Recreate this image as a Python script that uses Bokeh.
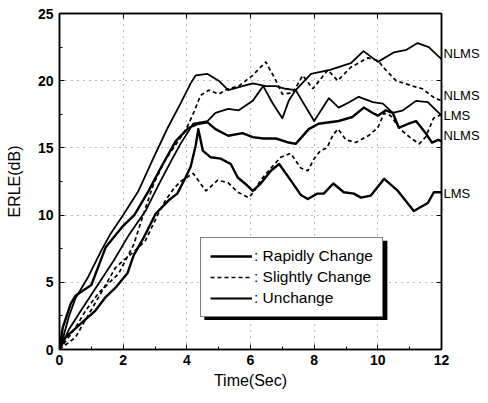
from bokeh.plotting import figure
from bokeh.models import (Range1d, LinearAxis, FixedTicker, Legend, LegendItem,
                          BoxAnnotation, AllLabels)
from bokeh.embed import file_html
from bokeh.resources import INLINE

# ---- data ----
t_nlms_unchange = [0, 0.15, 0.3, 0.5, 0.9, 1.3, 1.6, 2.0, 2.48, 2.96, 3.4, 3.8, 4.12, 4.28, 4.65, 5.0, 5.3,
                   5.75, 6.07, 6.48, 6.8, 7.1, 7.42, 7.9, 8.5, 9.15, 9.55, 10.0, 10.5, 10.9, 11.25, 11.6, 12.0]
erle_nlms_unchange = [0, 1.2, 2.5, 3.8, 5.4, 7.3, 8.6, 10.0, 11.8, 14.3, 16.5, 18.3, 19.8, 20.4, 20.5, 20.0, 19.3,
                      19.6, 19.8, 19.6, 19.6, 19.4, 19.3, 20.5, 20.8, 21.3, 22.2, 21.4, 22.1, 22.3, 22.8, 22.5, 21.6]

t_lms_unchange = [0, 0.3, 0.7, 1.2, 1.7, 2.2, 2.7, 3.1, 3.5, 3.8, 4.2, 4.43, 4.65, 4.9, 5.3, 5.63, 6.07, 6.4,
                  6.7, 7.0, 7.2, 7.42, 7.67, 8.0, 8.46, 8.77, 9.1, 9.4, 9.84, 10.16, 10.47, 10.79, 11.2, 11.57, 12.0]
erle_lms_unchange = [0, 1.5, 3.0, 4.8, 6.6, 8.6, 10.3, 12.2, 14.0, 15.3, 16.8, 16.9, 17.0, 17.6, 17.9, 17.8, 18.5, 19.6,
                     18.3, 17.2, 18.5, 19.3, 18.3, 17.0, 18.7, 18.0, 18.4, 18.8, 18.4, 18.3, 17.6, 17.8, 18.5, 18.4, 17.4]

t_nlms_rapid = [0, 0.1, 0.35, 0.5, 1.0, 1.45, 2.0, 2.35, 2.8, 3.2, 3.65, 4.06, 4.37, 4.65, 4.9, 5.3, 5.75, 6.07,
                6.4, 6.8, 7.2, 7.42, 7.83, 8.14, 8.77, 9.2, 9.56, 9.84, 10.0, 10.25, 10.47, 10.66, 10.97, 11.2,
                11.5, 11.7, 11.9, 12.0]
erle_nlms_rapid = [0, 1.6, 3.4, 4.0, 4.8, 7.6, 9.2, 10.0, 11.8, 13.6, 15.5, 16.5, 16.8, 16.9, 16.4, 15.9, 16.1, 15.8,
                   15.7, 15.7, 15.4, 15.3, 16.4, 16.8, 17.0, 17.3, 18.0, 17.6, 17.4, 17.8, 17.6, 16.5, 16.8, 17.0,
                   16.1, 15.4, 15.6, 15.5]

t_lms_rapid = [0, 0.19, 0.66, 1.13, 1.45, 1.76, 2.14, 2.33, 2.64, 3.02, 3.43, 3.7, 3.96, 4.12, 4.28, 4.36, 4.5,
               4.75, 5.06, 5.38, 5.6, 5.9, 6.07, 6.32, 6.64, 6.9, 7.26, 7.58, 7.8, 8.1, 8.3, 8.6, 8.93, 9.25,
               9.47, 9.78, 10.2, 10.63, 11.13, 11.57, 11.76, 12.0]
erle_lms_rapid = [0, 0.9, 1.9, 2.9, 3.9, 4.6, 5.7, 7.0, 8.3, 10.1, 11.1, 11.6, 12.8, 13.6, 15.2, 16.4, 14.8,
                  14.3, 14.2, 13.8, 12.8, 12.2, 11.8, 12.35, 13.3, 13.8, 12.6, 11.5, 11.2, 11.6, 11.6, 12.35, 11.7, 11.6,
                  11.3, 11.45, 12.7, 11.8, 10.3, 10.9, 11.7, 11.7]

t_nlms_slight = [0, 0.5, 0.82, 1.23, 1.86, 2.33, 2.6, 2.96, 3.3, 3.58, 3.74, 4.0, 4.21, 4.43, 4.69, 5.0, 5.3,
                 5.63, 6.07, 6.48, 6.8, 7.0, 7.33, 7.64, 7.96, 8.43, 8.74, 9.15, 9.69, 10.0, 10.25, 10.57, 11.1,
                 11.4, 11.76, 12.0]
erle_nlms_slight = [0, 1.6, 2.9, 4.2, 5.65, 7.8, 9.8, 12.35, 14.0, 15.0, 15.55, 16.5, 17.6, 18.9, 19.3, 19.0, 19.4,
                    19.6, 20.4, 21.4, 20.0, 19.0, 19.1, 20.4, 19.4, 20.8, 20.0, 21.0, 21.7, 21.5, 20.8, 20.0, 19.6,
                    19.4, 18.75, 18.5]

t_lms_slight = [0, 0.5, 1.23, 1.76, 2.39, 2.7, 3.1, 3.33, 3.6, 3.8, 4.2, 4.6, 4.97, 5.3, 5.6, 5.94, 6.1, 6.32,
                6.64, 6.95, 7.26, 7.58, 7.8, 8.0, 8.2, 8.4, 8.6, 8.75, 9.0, 9.3, 9.7, 10.0, 10.2, 10.4, 10.7, 11.0,
                11.3, 11.5, 11.75, 12.0]
erle_lms_slight = [0, 0.9, 3.9, 6.1, 7.4, 8.1, 10.1, 11.1, 12.0, 12.5, 13.1, 11.8, 12.6, 12.4, 11.7, 11.3, 11.7, 12.6,
                   13.5, 14.3, 14.6, 13.5, 13.3, 14.2, 14.8, 15.0, 16.0, 16.4, 15.6, 15.4, 15.9, 16.5, 17.6, 17.4, 16.4,
                   15.8, 15.3, 15.8, 17.2, 17.5]

end_labels = ["NLMS", "NLMS", "LMS", "NLMS", "LMS"]
end_label_values = [22.0, 18.9, 17.4, 15.9, 11.6]

x_ticks = [0, 2, 4, 6, 8, 10, 12]
y_ticks = [0, 5, 10, 15, 20, 25]

FONT = "Liberation Sans"

p = figure(width=486, height=400, output_backend="svg", toolbar_location=None,
           x_range=Range1d(0, 12), y_range=Range1d(0, 25),
           min_border_left=59, min_border_right=45, min_border_top=13, min_border_bottom=51,
           x_axis_label="Time(Sec)", y_axis_label="ERLE(dB)")
p.background_fill_color = "white"
p.border_fill_color = "white"
p.outline_line_color = "black"
p.outline_line_width = 1.5

for ax, ticks in ((p.xaxis[0], x_ticks), (p.yaxis[0], y_ticks)):
    ax.ticker = FixedTicker(ticks=ticks, minor_ticks=[v + (ticks[1] - ticks[0]) / 2 for v in ticks[:-1]])
    ax.major_tick_in = 5
    ax.major_tick_out = 0
    ax.minor_tick_in = 3
    ax.minor_tick_out = 0
    ax.axis_line_color = "black"
    ax.axis_line_width = 1.5
    ax.major_label_text_font = FONT
    ax.major_label_text_font_size = "14px"
    ax.major_label_text_font_style = "bold"
    ax.major_label_text_color = "black"
    ax.axis_label_text_font = FONT
    ax.axis_label_text_font_size = "16px"
    ax.axis_label_text_font_style = "normal"
    ax.axis_label_text_color = "black"
p.xaxis.major_label_standoff = 5
p.yaxis.major_label_standoff = 6
p.xaxis.axis_label_standoff = 4
p.yaxis.axis_label_standoff = 12

# top axis: inside ticks only
top_ax = LinearAxis(ticker=FixedTicker(ticks=x_ticks), major_tick_in=5, major_tick_out=0,
                    minor_tick_in=0, minor_tick_out=0, axis_line_color="black", axis_line_width=1.5,
                    major_label_text_alpha=0, major_label_text_font_size="1px", major_label_standoff=0)
p.add_layout(top_ax, "above")

# right axis: inside ticks at the y ticks, and the algorithm labels at the curve ends
right_ax = LinearAxis(ticker=FixedTicker(ticks=end_label_values, minor_ticks=y_ticks),
                      major_tick_in=0, major_tick_out=0, minor_tick_in=5, minor_tick_out=0,
                      axis_line_color="black", axis_line_width=1.5,
                      major_label_overrides={v: s for v, s in zip(end_label_values, end_labels)},
                      major_label_policy=AllLabels(), major_label_standoff=2,
                      major_label_text_font=FONT, major_label_text_font_size="13px",
                      major_label_text_color="black")
p.add_layout(right_ax, "right")

p.xgrid.ticker = FixedTicker(ticks=x_ticks)
p.ygrid.ticker = FixedTicker(ticks=y_ticks)
for g in (p.xgrid[0], p.ygrid[0]):
    g.grid_line_color = "#777777"
    g.grid_line_dash = "1 5"
    g.grid_line_width = 1

thick, thin, dashw = 2.4, 1.8, 1.7
r_nu = p.line(t_nlms_unchange, erle_nlms_unchange, line_color="black", line_width=thin, line_join="round")
r_lu = p.line(t_lms_unchange, erle_lms_unchange, line_color="black", line_width=thin, line_join="round")
r_nr = p.line(t_nlms_rapid, erle_nlms_rapid, line_color="black", line_width=thick, line_join="round")
r_lr = p.line(t_lms_rapid, erle_lms_rapid, line_color="black", line_width=thick, line_join="round")
r_ns = p.line(t_nlms_slight, erle_nlms_slight, line_color="black", line_width=dashw, line_dash="4 3")
r_ls = p.line(t_lms_slight, erle_lms_slight, line_color="black", line_width=dashw, line_dash="4 3")

# legend shadow
p.add_layout(BoxAnnotation(left=4.55, right=10.30, top=8.1, bottom=2.2,
                           fill_color="black", fill_alpha=1, line_color=None, level="overlay"))

legend = Legend(items=[LegendItem(label=": Rapidly Change", renderers=[r_nr]),
                       LegendItem(label=": Slightly Change", renderers=[r_ns]),
                       LegendItem(label=": Unchange", renderers=[r_nu])],
                location=(141, 32), orientation="vertical",
                label_text_font=FONT, label_text_font_size="15.5px", label_text_color="black",
                glyph_width=42, glyph_height=18, label_height=18, label_standoff=2,
                spacing=3, padding=9, margin=0,
                border_line_color="black", border_line_width=1.2,
                background_fill_color="white", background_fill_alpha=1)
p.add_layout(legend, "center")

open("out.html", "w").write(file_html(p, INLINE))
